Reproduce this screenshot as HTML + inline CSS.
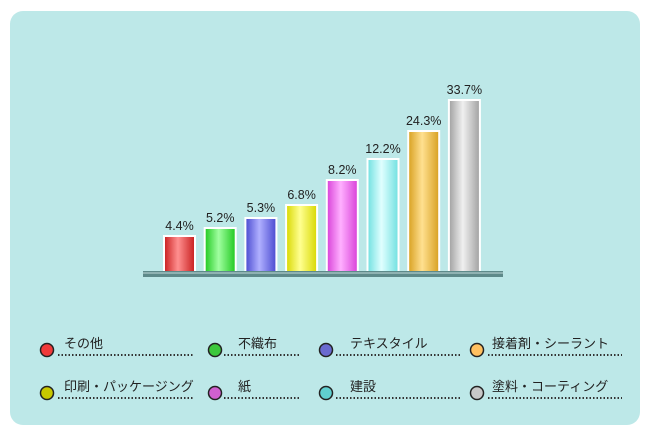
<!DOCTYPE html>
<html><head><meta charset="utf-8"><style>
html,body{margin:0;padding:0;background:#fff;width:650px;height:434px;overflow:hidden}
</style></head><body>
<svg id="chart" width="650" height="434" xmlns="http://www.w3.org/2000/svg" style="font-family:'Liberation Sans','Noto Sans CJK JP',sans-serif">
<defs id="defs"></defs>
<rect x="10" y="11" width="630" height="414" rx="13" fill="#bde8e8"/>
<g id="bars"></g>
<rect x="143" y="271" width="360" height="6" fill="#5e8a8a"/>
<rect x="143" y="272" width="360" height="2" fill="#8fb2b2"/>
<g id="legend"></g>
</svg>
<script>
const categories=["その他","不織布","テキスタイル","接着剤・シーラント","印刷・パッケージング","紙","建設","塗料・コーティング"];
const values=[4.4,5.2,5.3,6.8,8.2,12.2,24.3,33.7];
const valueLabels=["4.4%","5.2%","5.3%","6.8%","8.2%","12.2%","24.3%","33.7%"];
const barColors=[["#c81e1e","#ff9090"],["#1fc81f","#a0ffa0"],["#4a4ad0","#b0b0ff"],["#d8d800","#ffff90"],["#d840d8","#ffb0ff"],["#70e0e0","#e0ffff"],["#d8a020","#ffe090"],["#a0a0a0","#f0f0f0"]];
const legendColors=["#f03a3a","#3cc83c","#6a6ad0","#ffc060","#c8c800","#d060d0","#60d0d0","#c8c8c8"];
const NS="http://www.w3.org/2000/svg";
const baseY=272;
// axis mapping (stepped visual scale as in the source)
const knotsV=[0,4.4,5.2,5.3,6.8,8.2,12.2,24.3,33.7];
const knotsH=[0,36,44,54,67,92,113,141,172];
function yScale(v){
  for(let i=1;i<knotsV.length;i++){
    if(v<=knotsV[i]||i===knotsV.length-1){
      const t=(v-knotsV[i-1])/(knotsV[i]-knotsV[i-1]);
      return baseY-(knotsH[i-1]+t*(knotsH[i]-knotsH[i-1]));
    }
  }
}
function xScale(i){return 164+i*40.7;}
const bw=31;
const defs=document.getElementById('defs');
const bars=document.getElementById('bars');
values.forEach((v,i)=>{
  const g=document.createElementNS(NS,'linearGradient');
  g.setAttribute('id','g'+i);
  const c=barColors[i];
  [[0,c[0]],[0.45,c[1]],[1,c[0]]].forEach(s=>{const st=document.createElementNS(NS,'stop');st.setAttribute('offset',s[0]);st.setAttribute('stop-color',s[1]);g.appendChild(st);});
  defs.appendChild(g);
  const y=yScale(v);
  const r=document.createElementNS(NS,'rect');
  r.setAttribute('x',xScale(i));r.setAttribute('y',y);r.setAttribute('width',bw);r.setAttribute('height',baseY-y);
  r.setAttribute('fill','url(#g'+i+')');r.setAttribute('stroke','#fff');r.setAttribute('stroke-width','2');
  
  
  bars.appendChild(r);
  const t=document.createElementNS(NS,'text');
  t.setAttribute('x',xScale(i)+bw/2);t.setAttribute('y',y-6);t.setAttribute('text-anchor','middle');
  t.setAttribute('font-size','12.5');t.setAttribute('fill','#222');
  t.textContent=valueLabels[i];
  
  
  bars.appendChild(t);
});
const legend=document.getElementById('legend');
const colCx=[47,215,326,477],colTx=[64,238,350,492],colDot=[[58,193],[224,300],[336,460],[488,622]];
const rowY=[349,392];
categories.forEach((name,i)=>{
  const col=i%4,row=Math.floor(i/4);
  const gy=rowY[row];
  const g=document.createElementNS(NS,'g');
  
  
  const l=document.createElementNS(NS,'line');
  l.setAttribute('x1',colDot[col][0]);l.setAttribute('x2',colDot[col][1]);l.setAttribute('y1',gy+6);l.setAttribute('y2',gy+6);
  l.setAttribute('stroke','#333');l.setAttribute('stroke-width','2');l.setAttribute('stroke-dasharray','1.5 2');
  g.appendChild(l);
  const c=document.createElementNS(NS,'circle');
  c.setAttribute('cx',colCx[col]);c.setAttribute('cy',gy+1);c.setAttribute('r','6.5');
  c.setAttribute('fill',legendColors[i]);c.setAttribute('stroke','#222');c.setAttribute('stroke-width','1.5');
  g.appendChild(c);
  const t=document.createElementNS(NS,'text');
  t.setAttribute('x',colTx[col]);t.setAttribute('y',gy-1);t.setAttribute('font-size','13');t.setAttribute('fill','#222');
  t.textContent=name;
  g.appendChild(t);
  legend.appendChild(g);
});
</script>
</body></html>
